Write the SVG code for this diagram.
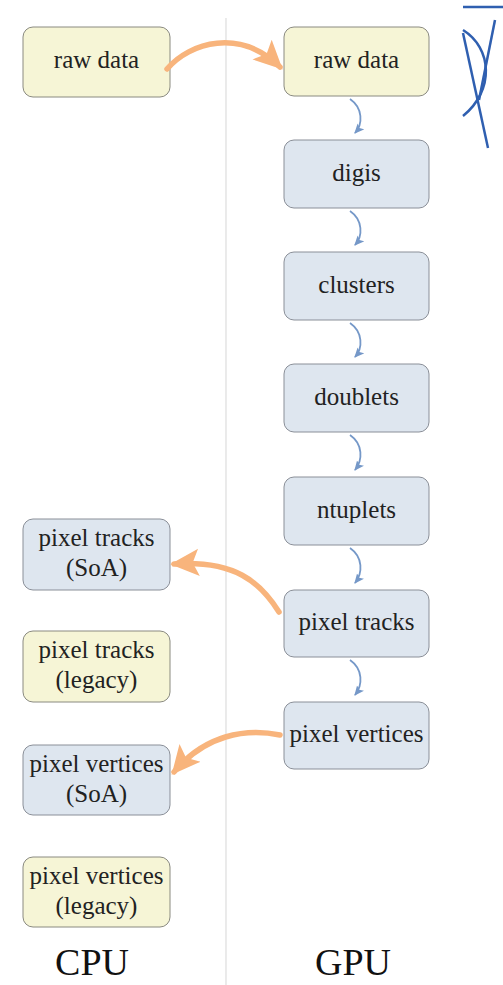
<svg xmlns="http://www.w3.org/2000/svg" width="503" height="985" viewBox="0 0 503 985">
<style>
.y{fill:#f6f5d6;stroke:#8a8a80;stroke-width:1}
.b{fill:#dee6ef;stroke:#8a8f98;stroke-width:1}
.t{font-family:"Liberation Serif",serif;font-size:25px;fill:#222;text-anchor:middle}
.h{font-family:"Liberation Serif",serif;font-size:38px;fill:#111;text-anchor:middle}
.o{fill:none;stroke:#f8b47c;stroke-width:5.5;stroke-linecap:round}
.s{fill:none;stroke:#7598c8;stroke-width:1.8}
</style>
<defs>
<marker id="ao" markerUnits="userSpaceOnUse" markerWidth="30" markerHeight="30" refX="20" refY="11" orient="auto" viewBox="0 0 24 22">
<path d="M0,0 L23,11 L0,22 L5,11 Z" fill="#f8b47c"/>
</marker>
<marker id="ab" markerUnits="userSpaceOnUse" markerWidth="10" markerHeight="10" refX="8" refY="4" orient="auto" viewBox="0 0 9 8">
<path d="M0,0 L9,4 L0,8 L2,4 Z" fill="#7598c8"/>
</marker>
</defs>
<rect width="503" height="985" fill="#fff"/>
<line x1="226" y1="18" x2="226" y2="985" stroke="#ddd" stroke-width="1.2"/>

<g id="cpu-raw"><rect class="y" x="23" y="27" width="147" height="70" rx="10"/><text class="t" x="96.5" y="68">raw data</text></g>
<g id="cpu-tracks-soa"><rect class="b" x="23" y="519" width="147" height="71" rx="10"/><text class="t" x="96.5" y="546">pixel tracks</text><text class="t" x="96.5" y="576">(SoA)</text></g>
<g id="cpu-tracks-legacy"><rect class="y" x="23" y="631" width="147" height="71" rx="10"/><text class="t" x="96.5" y="658">pixel tracks</text><text class="t" x="96.5" y="688">(legacy)</text></g>
<g id="cpu-vertices-soa"><rect class="b" x="23" y="745" width="147" height="70" rx="10"/><text class="t" x="96.5" y="772">pixel vertices</text><text class="t" x="96.5" y="802">(SoA)</text></g>
<g id="cpu-vertices-legacy"><rect class="y" x="23" y="857" width="147" height="70" rx="10"/><text class="t" x="96.5" y="884">pixel vertices</text><text class="t" x="96.5" y="914">(legacy)</text></g>

<g id="gpu-raw"><rect class="y" x="284" y="27" width="145" height="69" rx="10"/><text class="t" x="356.5" y="68">raw data</text></g>
<g id="gpu-digis"><rect class="b" x="284" y="140" width="145" height="68" rx="10"/><text class="t" x="356.5" y="181">digis</text></g>
<g id="gpu-clusters"><rect class="b" x="284" y="252" width="145" height="68" rx="10"/><text class="t" x="356.5" y="293">clusters</text></g>
<g id="gpu-doublets"><rect class="b" x="284" y="364" width="145" height="68" rx="10"/><text class="t" x="356.5" y="405">doublets</text></g>
<g id="gpu-ntuplets"><rect class="b" x="284" y="477" width="145" height="68" rx="10"/><text class="t" x="356.5" y="518">ntuplets</text></g>
<g id="gpu-tracks"><rect class="b" x="284" y="590" width="145" height="67" rx="10"/><text class="t" x="356.5" y="630">pixel tracks</text></g>
<g id="gpu-vertices"><rect class="b" x="284" y="702" width="145" height="67" rx="10"/><text class="t" x="356.5" y="742">pixel vertices</text></g>

<text class="h" x="92" y="975">CPU</text>
<text class="h" x="353" y="975">GPU</text>

<g id="connectors">
<path class="o" d="M167,69 C190,42 240,28 280,67" marker-end="url(#ao)"/>
<path class="o" d="M279,612 C260,582 235,560 174,564" marker-end="url(#ao)"/>
<path class="o" d="M280,735 C245,728 205,735 174,772" marker-end="url(#ao)"/>
<path class="s" d="M350,99 C363,108 363,124 355,133" marker-end="url(#ab)"/>
<path class="s" d="M350,211 C363,220 363,236 355,245" marker-end="url(#ab)"/>
<path class="s" d="M350,323 C363,332 363,348 355,357" marker-end="url(#ab)"/>
<path class="s" d="M350,435 C363,444 363,460 355,470" marker-end="url(#ab)"/>
<path class="s" d="M350,548 C363,557 363,573 355,583" marker-end="url(#ab)"/>
<path class="s" d="M350,660 C363,669 363,685 355,695" marker-end="url(#ab)"/>
</g>

<g id="scribble" fill="none" stroke="#2f5fb0" stroke-width="2.5">
<line x1="463" y1="7" x2="503" y2="7"/>
<path d="M463,30 C492,48 495,90 463,116"/>
<line x1="463" y1="33" x2="488" y2="148"/>
<line x1="495" y1="20" x2="479" y2="100"/>
</g>
</svg>
